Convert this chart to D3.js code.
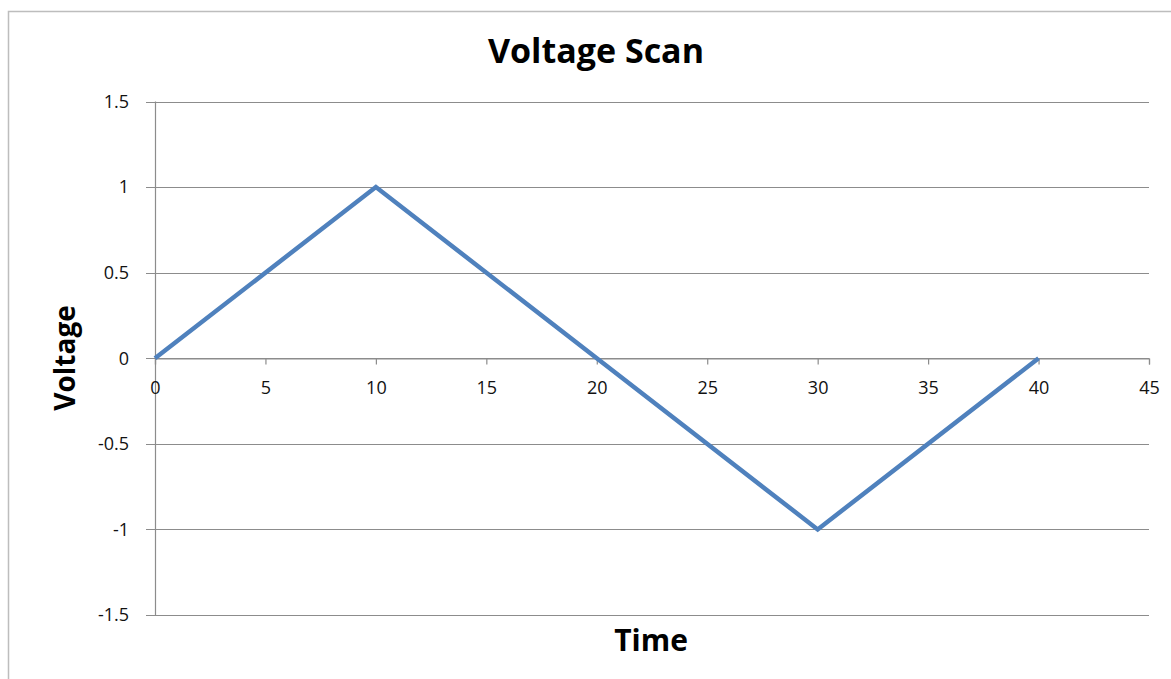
<!DOCTYPE html>
<html><head><meta charset="utf-8">
<script src="https://cdn.jsdelivr.net/npm/d3@7"></script>
<style>body{margin:0;background:#fff}text{font-family:"Open Sans",sans-serif}</style>
</head><body><svg id="c" width="1171" height="679"></svg>
<script>
const timeValues = [0, 10, 20, 30, 40];
const voltageValues = [0, 1, 0, -1, 0];
const xTicks = [0, 5, 10, 15, 20, 25, 30, 35, 40, 45];
const yTicks = [-1.5, -1, -0.5, 0, 0.5, 1, 1.5];
const titleText = "Voltage Scan";
const xTitle = "Time";
const yTitle = "Voltage";

const svg = d3.select("#c");
const L = 155, R = 1149, T = 101.5, B = 615;
const x = d3.scaleLinear().domain([0, 45]).range([L, R]);
const y = d3.scaleLinear().domain([-1.5, 1.5]).range([B, T]);

svg.append("rect").attr("x", 8.5).attr("y", 11.5).attr("width", 1200).attr("height", 700)
  .attr("fill", "#fff").attr("stroke", "#bdbdbd").attr("stroke-width", 1.5);

// gridlines
svg.append("g").selectAll("line").data(yTicks).join("line")
  .attr("x1", L - 9).attr("x2", R).attr("y1", d => Math.round(y(d)) + 0.5).attr("y2", d => Math.round(y(d)) + 0.5)
  .attr("stroke", "#8c8c8c").attr("stroke-width", 1.2);

// y axis line
svg.append("line").attr("x1", L + 0.5).attr("x2", L + 0.5).attr("y1", T).attr("y2", B)
  .attr("stroke", "#8c8c8c").attr("stroke-width", 1.2);

// x axis at y=0
const xAxis = d3.axisBottom(x).tickValues(xTicks).tickSize(6).tickPadding(17).tickFormat(d3.format("d"));
const gx = svg.append("g").attr("transform", `translate(0,${Math.round(y(0)) + 0.5})`).call(xAxis);
gx.attr("font-size", null).attr("font-family", null);
gx.select(".domain").attr("stroke", "#8c8c8c").attr("stroke-width", 1.2);
gx.selectAll(".tick line").attr("stroke", "#8c8c8c").attr("stroke-width", 1.2);
gx.selectAll(".tick text").style("font-size", "18px").attr("fill", "#111");

// y labels
const fmt = d => String(d);
svg.append("g").selectAll("text").data(yTicks).join("text")
  .attr("x", 129).attr("y", d => y(d)).attr("dy", "0.35em").attr("text-anchor", "end")
  .style("font-size", "18px").attr("fill", "#111").text(fmt);

// line
const line = d3.line().x((d, i) => x(timeValues[i])).y(d => y(d));
svg.append("path").datum(voltageValues).attr("d", line).attr("fill", "none")
  .attr("stroke", "#4f81bd").attr("stroke-width", 4.5).attr("stroke-linejoin", "miter");

svg.append("text").attr("x", 596).attr("y", 63).attr("text-anchor", "middle")
  .style("font-size", "34px").attr("font-weight", "bold").attr("fill", "#000").text(titleText);
svg.append("text").attr("x", 651).attr("y", 651).attr("text-anchor", "middle")
  .style("font-size", "30px").attr("font-weight", "bold").attr("fill", "#000").text(xTitle);
svg.append("text").attr("transform", "translate(75,358) rotate(-90)").attr("text-anchor", "middle")
  .style("font-size", "28px").attr("font-weight", "bold").attr("fill", "#000").text(yTitle);
</script></body></html>
